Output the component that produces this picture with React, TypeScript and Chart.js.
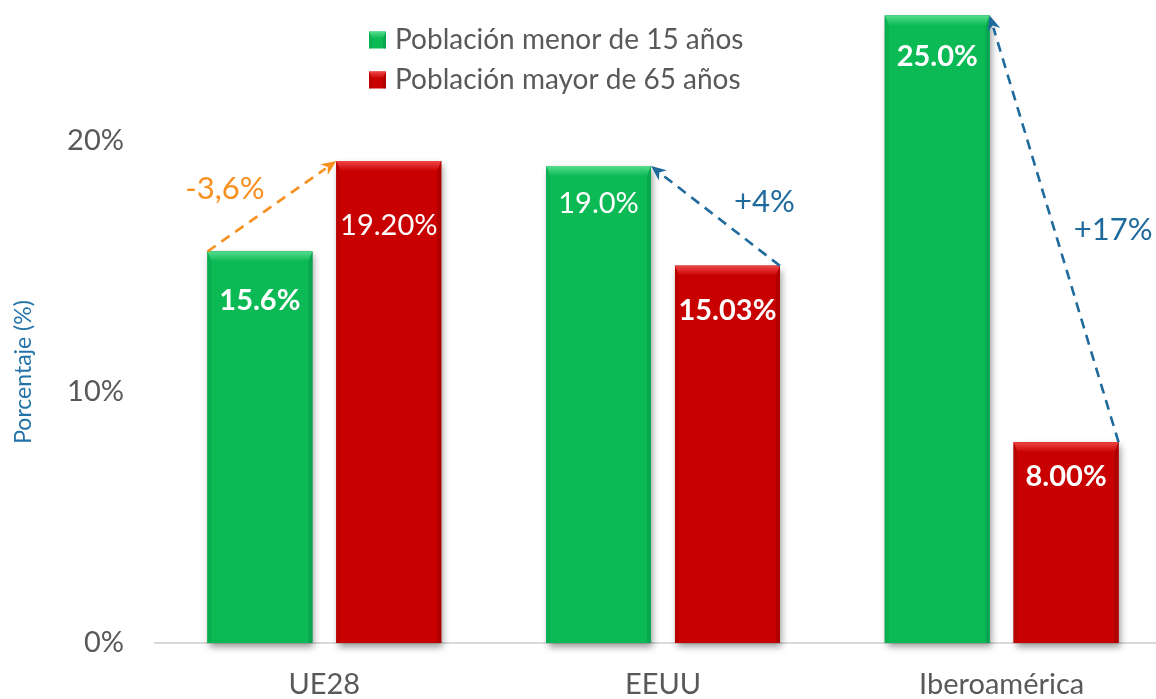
import React, { useEffect, useRef } from 'react';
import { Chart, registerables } from 'chart.js';

Chart.register(...registerables);

// ---------- data ----------
const categories = ['UE28', 'EEUU', 'Iberoamérica'];
const seriesNames = ['Población menor de 15 años', 'Población mayor de 65 años'];
const under15 = [15.6, 19.0, 25.0];
const over65 = [19.2, 15.03, 8.0];
const under15Labels = ['15.6%', '19.0%', '25.0%'];
const over65Labels = ['19.20%', '15.03%', '8.00%'];
const yTickValues = [0, 10, 20];
const yAxisTitle = 'Porcentaje (%)';
const arrowLabels = ['-3,6%', '+4%', '+17%'];

// ---------- styles ----------
const FONT = 'Lato, "Open Sans", "DejaVu Sans", sans-serif';
const GREY = '#595959';
const GREEN = '#0bba55';
const GREEN_LIGHT = '#55dc8c';
const GREEN_DARK = '#07894a';
const RED = '#c90000';
const RED_LIGHT = '#ee4646';
const RED_DARK = '#8a0000';
const ORANGE = '#f7901e';
const BLUE = '#1f6a9c';
const TITLE_BLUE = '#2473a8';

const labelBold = [
  [true, false, true],
  [false, true, true],
];
const labelOffset = [
  [49, 38, 41],
  [65, 45, 34],
];

// arrows: from [dataset, category, side] to [dataset, category, side]
const arrows = [
  { from: [0, 0, 'left'], to: [1, 0, 'left'], color: ORANGE, dx: -47, dy: -17 },
  { from: [1, 1, 'right'], to: [0, 1, 'right'], color: BLUE, dx: 49, dy: -14 },
  { from: [1, 2, 'right'], to: [0, 2, 'right'], color: BLUE, dx: 59, dy: 1 },
];

function barGeom(chart: any, ds: number, idx: number) {
  const el = chart.getDatasetMeta(ds).data[idx] as any;
  const p = el.getProps(['x', 'y', 'base', 'width'], true);
  return { left: p.x - p.width / 2, right: p.x + p.width / 2, top: p.y, base: p.base, x: p.x };
}

function bevelRect(ctx: CanvasRenderingContext2D, l: number, t: number, r: number, b: number, main: string, light: string, dark: string, bev: number, side: number) {
  ctx.fillStyle = main;
  ctx.fillRect(l, t, r - l, b - t);
  // top bevel
  const g = ctx.createLinearGradient(0, t, 0, t + bev);
  g.addColorStop(0, light);
  g.addColorStop(1, main);
  ctx.fillStyle = g;
  ctx.beginPath();
  ctx.moveTo(l, t);
  ctx.lineTo(r, t);
  ctx.lineTo(r - side, t + bev);
  ctx.lineTo(l + side, t + bev);
  ctx.closePath();
  ctx.fill();
  // sides
  ctx.globalAlpha = 0.4;
  ctx.fillStyle = dark;
  ctx.beginPath();
  ctx.moveTo(r, t);
  ctx.lineTo(r, b);
  ctx.lineTo(r - side, b);
  ctx.lineTo(r - side, t + bev);
  ctx.closePath();
  ctx.fill();
  ctx.globalAlpha = 0.22;
  ctx.beginPath();
  ctx.moveTo(l, t);
  ctx.lineTo(l + side, t + bev);
  ctx.lineTo(l + side, b);
  ctx.lineTo(l, b);
  ctx.closePath();
  ctx.fill();
  ctx.globalAlpha = 1;
}

function drawArrow(ctx: CanvasRenderingContext2D, x1: number, y1: number, x2: number, y2: number, color: string) {
  const dx = x2 - x1;
  const dy = y2 - y1;
  const len = Math.hypot(dx, dy);
  const ux = dx / len;
  const uy = dy / len;
  const head = 15;
  const hw = 6.5;
  ctx.save();
  ctx.strokeStyle = color;
  ctx.fillStyle = color;
  ctx.lineWidth = 2.6;
  ctx.setLineDash([10, 7]);
  ctx.beginPath();
  ctx.moveTo(x1, y1);
  ctx.lineTo(x2 - ux * (head - 2), y2 - uy * (head - 2));
  ctx.stroke();
  ctx.setLineDash([]);
  ctx.beginPath();
  ctx.moveTo(x2, y2);
  ctx.lineTo(x2 - ux * head - uy * hw, y2 - uy * head + ux * hw);
  ctx.lineTo(x2 - ux * head * 0.7, y2 - uy * head * 0.7);
  ctx.lineTo(x2 - ux * head + uy * hw, y2 - uy * head - ux * hw);
  ctx.closePath();
  ctx.fill();
  ctx.restore();
}

const decorPlugin = {
  id: 'decor',
  beforeDatasetsDraw(chart: any) {
    const ctx = chart.ctx as CanvasRenderingContext2D;
    ctx.save();
    ctx.shadowColor = 'rgba(0,0,0,0.4)';
    ctx.shadowBlur = 7;
    ctx.shadowOffsetX = 2;
    ctx.shadowOffsetY = 4;
    ctx.fillStyle = '#888';
    for (let d = 0; d < 2; d++) {
      for (let i = 0; i < categories.length; i++) {
        const g = barGeom(chart, d, i);
        ctx.fillRect(g.left, g.top, g.right - g.left, g.base - g.top);
      }
    }
    ctx.restore();
  },
  afterDatasetsDraw(chart: any) {
    const ctx = chart.ctx as CanvasRenderingContext2D;
    ctx.save();
    for (let d = 0; d < 2; d++) {
      for (let i = 0; i < categories.length; i++) {
        const g = barGeom(chart, d, i);
        if (d === 0) bevelRect(ctx, g.left, g.top, g.right, g.base, GREEN, GREEN_LIGHT, GREEN_DARK, 10, 4);
        else bevelRect(ctx, g.left, g.top, g.right, g.base, RED, RED_LIGHT, RED_DARK, 10, 4);
      }
    }
    // data labels
    const labels = [under15Labels, over65Labels];
    ctx.fillStyle = '#ffffff';
    ctx.textAlign = 'center';
    ctx.textBaseline = 'middle';
    for (let d = 0; d < 2; d++) {
      for (let i = 0; i < categories.length; i++) {
        const g = barGeom(chart, d, i);
        ctx.font = `${labelBold[d][i] ? 'bold ' : ''}29px ${FONT}`;
        ctx.fillText(labels[d][i], g.x, g.top + labelOffset[d][i]);
      }
    }
    // arrows
    arrows.forEach((a, k) => {
      const f = barGeom(chart, a.from[0] as number, a.from[1] as number);
      const t = barGeom(chart, a.to[0] as number, a.to[1] as number);
      const x1 = a.from[2] === 'left' ? f.left : f.right;
      const x2 = a.to[2] === 'left' ? t.left : t.right;
      const y1 = f.top;
      const y2 = t.top;
      drawArrow(ctx, x1, y1, x2, y2, a.color);
      ctx.font = `31px ${FONT}`;
      ctx.fillStyle = a.color;
      ctx.textAlign = 'center';
      ctx.textBaseline = 'middle';
      ctx.fillText(arrowLabels[k], (x1 + x2) / 2 + a.dx, (y1 + y2) / 2 + a.dy);
    });
    ctx.restore();
  },
  afterDraw(chart: any) {
    const ctx = chart.ctx as CanvasRenderingContext2D;
    ctx.save();
    // legend
    const cols = [
      [GREEN, GREEN_LIGHT, GREEN_DARK],
      [RED, RED_LIGHT, RED_DARK],
    ];
    for (let k = 0; k < seriesNames.length; k++) {
      const cy = 40 + k * 40;
      bevelRect(ctx, 369, cy - 8.5, 386, cy + 8.5, cols[k][0], cols[k][1], cols[k][2], 7, 3);
      ctx.font = `28px ${FONT}`;
      ctx.fillStyle = GREY;
      ctx.textAlign = 'left';
      ctx.textBaseline = 'middle';
      ctx.fillText(seriesNames[k], 395, cy);
    }
    // y axis title
    ctx.translate(24, 372);
    ctx.rotate(-Math.PI / 2);
    ctx.font = `23px ${FONT}`;
    ctx.fillStyle = TITLE_BLUE;
    ctx.textAlign = 'center';
    ctx.textBaseline = 'middle';
    ctx.fillText(yAxisTitle, 0, 0);
    ctx.restore();
  },
};

export default function App() {
  const ref = useRef<HTMLCanvasElement | null>(null);
  useEffect(() => {
    if (!ref.current) return;
    const chart = new Chart(ref.current, {
      type: 'bar',
      data: {
        labels: categories,
        datasets: [
          { label: seriesNames[0], data: under15, backgroundColor: GREEN, borderWidth: 0 },
          { label: seriesNames[1], data: over65, backgroundColor: RED, borderWidth: 0 },
        ],
      },
      options: {
        responsive: false,
        animation: false,
        devicePixelRatio: 1,
        layout: { padding: { top: 15.5, left: 0, right: 0, bottom: 0 } },
        datasets: { bar: { categoryPercentage: 0.761, barPercentage: 0.814 } },
        plugins: { legend: { display: false }, tooltip: { enabled: false }, title: { display: false } },
        scales: {
          x: {
            grid: { display: false, drawTicks: false },
            border: { display: true, color: '#d9d9d9', width: 2 },
            ticks: { color: GREY, font: { family: FONT, size: 29 }, padding: 24 },
            afterFit: (s: any) => { s.height = 56; s.paddingLeft = 0; s.paddingRight = 0; },
          },
          y: {
            min: 0,
            max: 25,
            grid: { display: false, drawTicks: false },
            border: { display: false },
            afterBuildTicks: (s: any) => { s.ticks = yTickValues.map((v) => ({ value: v })); },
            ticks: {
              color: GREY,
              font: { family: FONT, size: 29 },
              padding: 31,
              callback: (v: any) => `${v}%`,
            },
            afterFit: (s: any) => { s.width = 155; s.paddingTop = 0; s.paddingBottom = 0; },
          },
        },
      },
      plugins: [decorPlugin],
    });
    return () => chart.destroy();
  }, []);
  return (
    <div style={{ position: 'fixed', left: 0, top: 0, width: 1156, height: 699, overflow: 'hidden', background: '#fff' }}>
      <canvas ref={ref} width={1171} height={699} style={{ display: 'block' }} />
    </div>
  );
}
